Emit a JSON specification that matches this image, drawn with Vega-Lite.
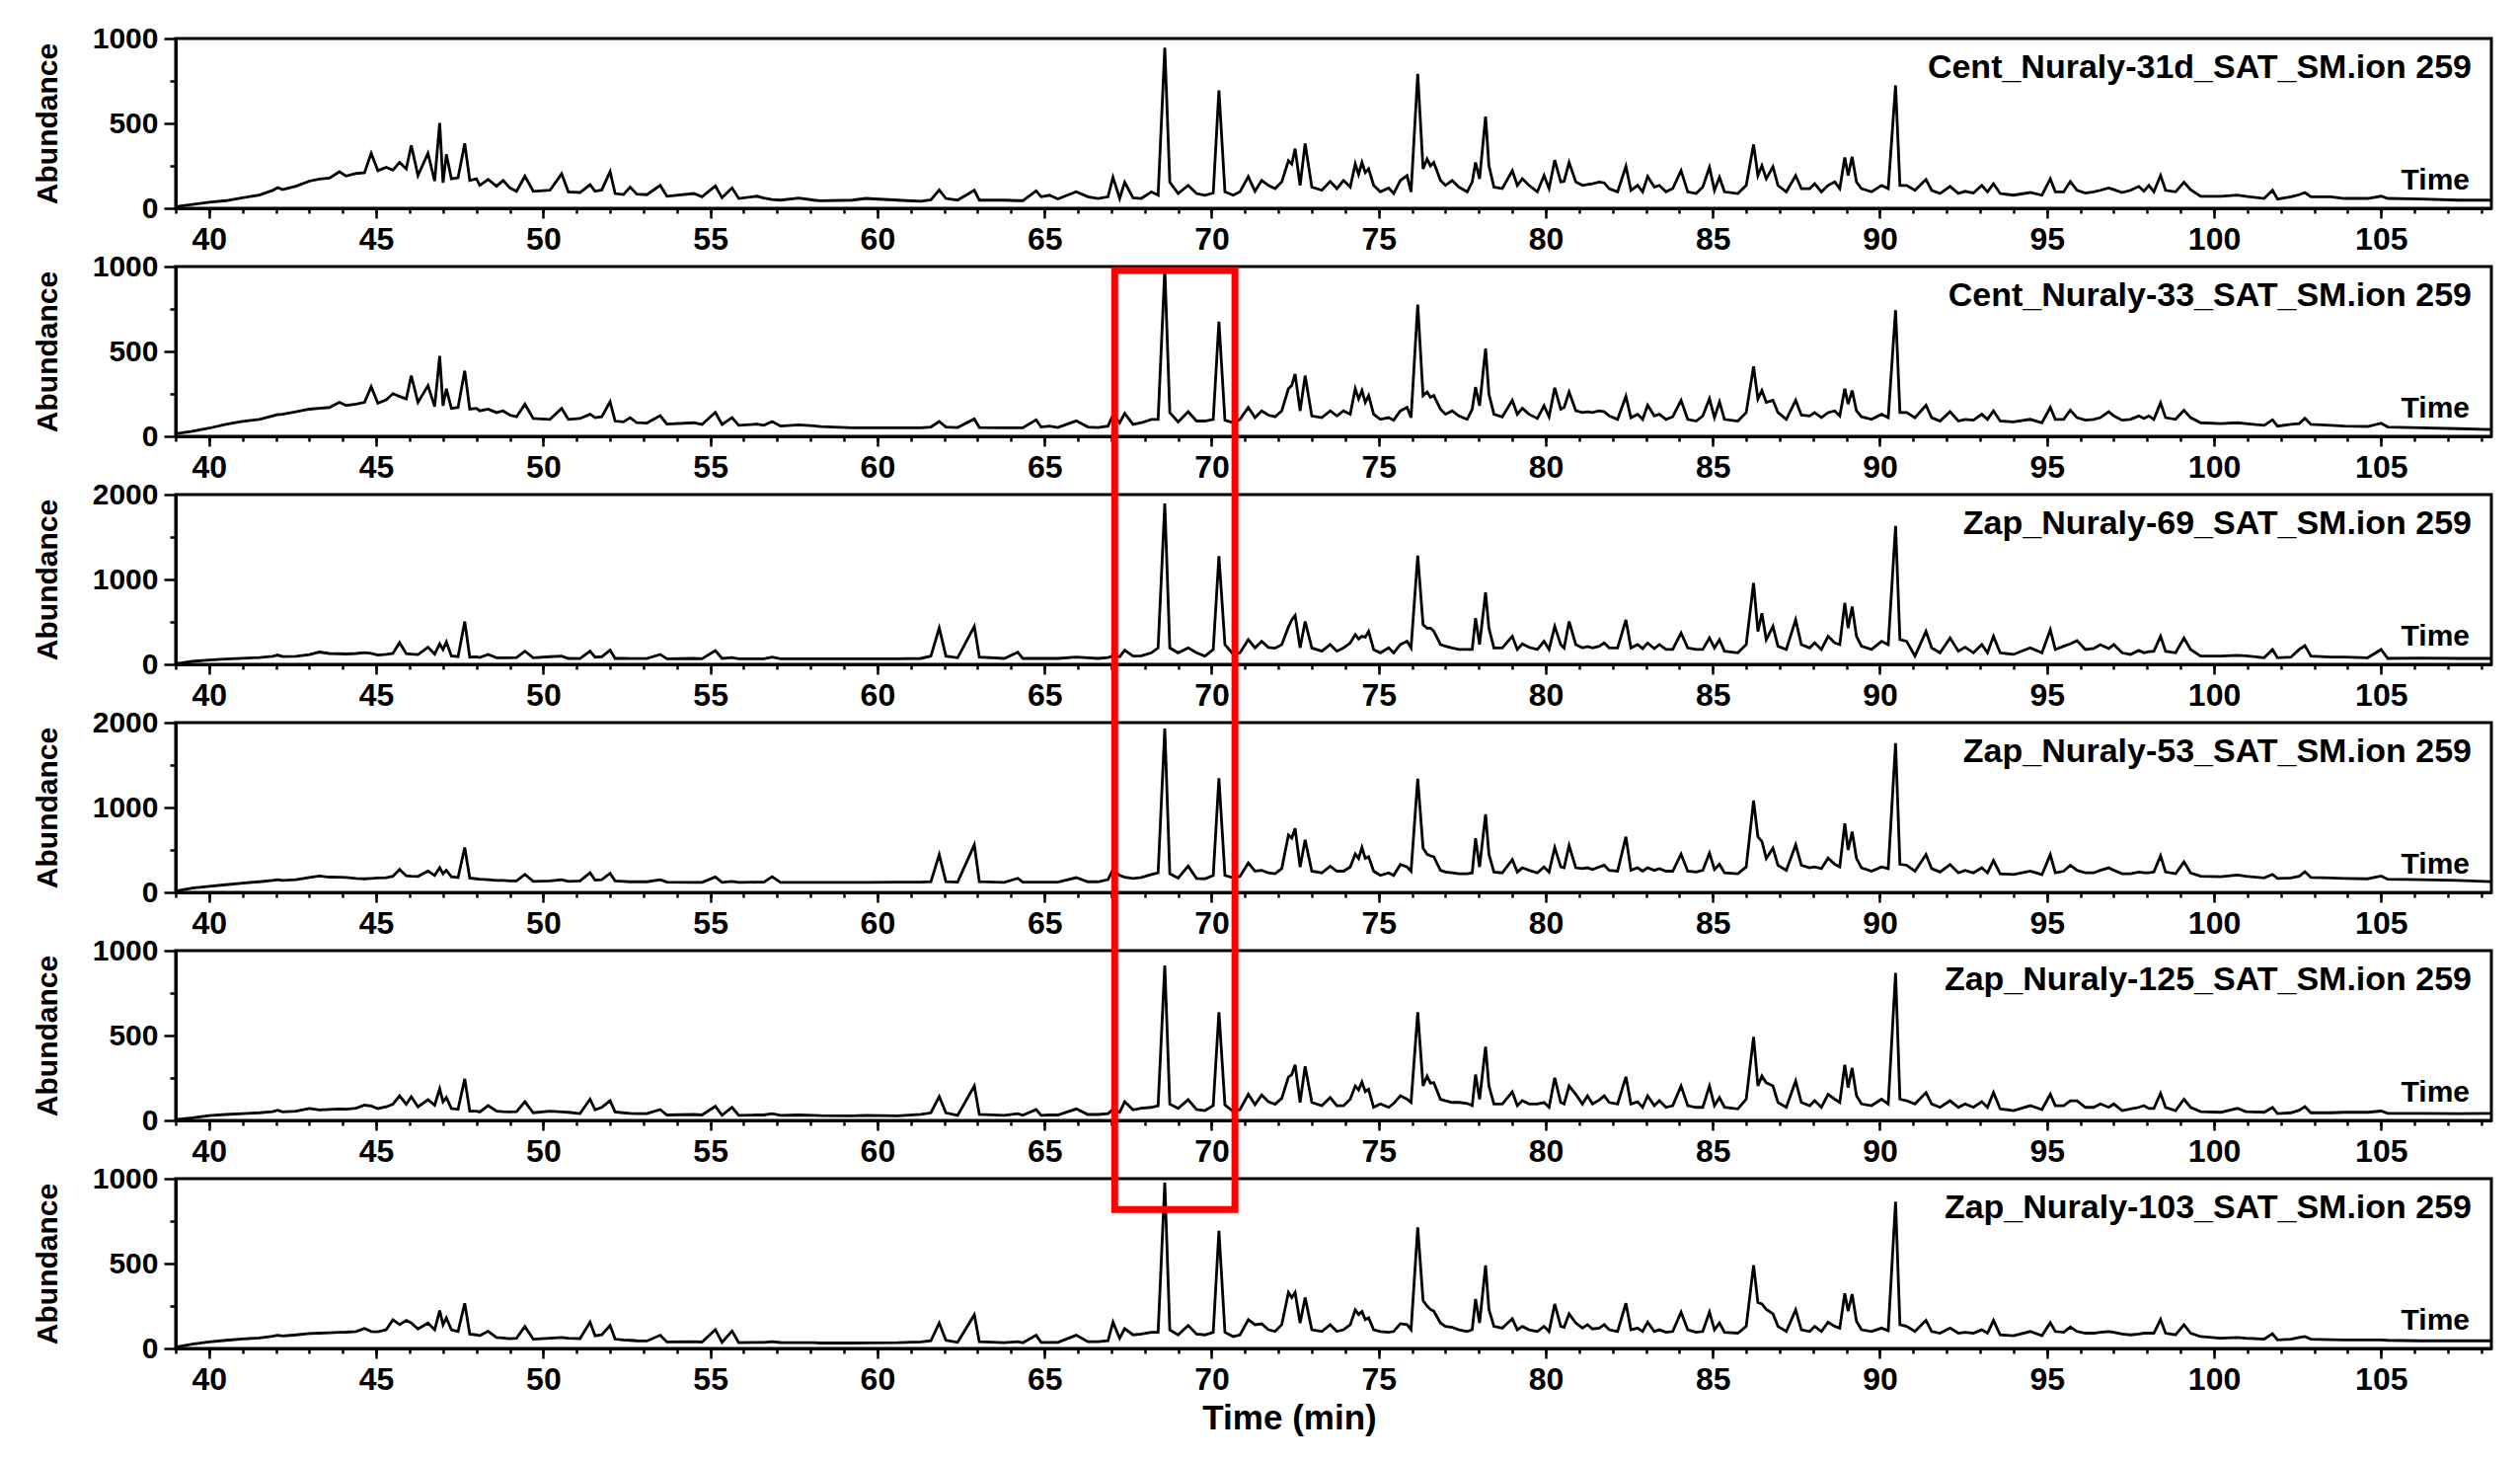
{
  "$schema": "https://vega.github.io/schema/vega-lite/v6.json",
  "padding": {"left": 31, "top": 22, "right": 5, "bottom": 5},
  "background": "white",
  "spacing": 59,
  "bounds": "flush",
  "config": {
    "font": "Liberation Sans",
    "view": {"stroke": "black", "strokeWidth": 3},
    "axis": {
      "grid": false,
      "domainColor": "black", "domainWidth": 3,
      "tickColor": "black", "tickWidth": 2.5,
      "labelColor": "black", "labelFont": "Liberation Sans", "labelFontWeight": "bold", "labelFontSize": 30,
      "labelFlush": false, "labelOverlap": false,
      "titleColor": "black", "titleFont": "Liberation Sans", "titleFontWeight": "bold", "titleFontSize": 30
    },
    "axisX": {"labelFontSize": 32},
    "axisY": {"format": "d"}
  },
  "datasets": {
    "gc": [
      {"t":39.0,"p1":10,"p2":15,"p3":8,"p4":15,"p5":5,"p6":8},
      {"t":39.5,"p1":22,"p2":30,"p3":35,"p4":50,"p5":15,"p6":25},
      {"t":40.0,"p1":35,"p2":48,"p3":50,"p4":70,"p5":28,"p6":38},
      {"t":40.5,"p1":45,"p2":70,"p3":62,"p4":90,"p5":35,"p6":48},
      {"t":41.0,"p1":62,"p2":88,"p3":72,"p4":110,"p5":40,"p6":56},
      {"t":41.5,"p1":78,"p2":100,"p3":80,"p4":125,"p5":45,"p6":62},
      {"t":41.9,"p1":105,"p2":120,"p3":95,"p4":140,"p5":52,"p6":72},
      {"t":42.05,"p1":122,"p2":128,"p3":110,"p4":150,"p5":60,"p6":78},
      {"t":42.2,"p1":110,"p2":130,"p3":92,"p4":140,"p5":50,"p6":74},
      {"t":42.6,"p1":130,"p2":145,"p3":95,"p4":150,"p5":55,"p6":80},
      {"t":43.0,"p1":160,"p2":160,"p3":115,"p4":175,"p5":70,"p6":88},
      {"t":43.3,"p1":172,"p2":165,"p3":145,"p4":193,"p5":62,"p6":90},
      {"t":43.6,"p1":178,"p2":170,"p3":128,"p4":180,"p5":65,"p6":92},
      {"t":43.9,"p1":215,"p2":200,"p3":125,"p4":178,"p5":68,"p6":95},
      {"t":44.1,"p1":190,"p2":182,"p3":122,"p4":175,"p5":66,"p6":96},
      {"t":44.4,"p1":205,"p2":190,"p3":128,"p4":165,"p5":72,"p6":100},
      {"t":44.65,"p1":210,"p2":200,"p3":138,"p4":160,"p5":90,"p6":118},
      {"t":44.85,"p1":324,"p2":293,"p3":130,"p4":165,"p5":85,"p6":100},
      {"t":45.05,"p1":222,"p2":195,"p3":110,"p4":170,"p5":70,"p6":98},
      {"t":45.3,"p1":241,"p2":215,"p3":118,"p4":172,"p5":80,"p6":110},
      {"t":45.5,"p1":225,"p2":251,"p3":128,"p4":190,"p5":95,"p6":169},
      {"t":45.7,"p1":270,"p2":235,"p3":256,"p4":270,"p5":145,"p6":140},
      {"t":45.9,"p1":232,"p2":220,"p3":125,"p4":195,"p5":95,"p6":165},
      {"t":46.05,"p1":371,"p2":357,"p3":120,"p4":190,"p5":139,"p6":150},
      {"t":46.25,"p1":193,"p2":200,"p3":115,"p4":188,"p5":80,"p6":115},
      {"t":46.55,"p1":324,"p2":299,"p3":202,"p4":251,"p5":122,"p6":150},
      {"t":46.75,"p1":160,"p2":175,"p3":120,"p4":200,"p5":90,"p6":110},
      {"t":46.9,"p1":502,"p2":473,"p3":241,"p4":290,"p5":187,"p6":223},
      {"t":47.0,"p1":150,"p2":180,"p3":175,"p4":220,"p5":110,"p6":140},
      {"t":47.1,"p1":318,"p2":280,"p3":264,"p4":260,"p5":135,"p6":180},
      {"t":47.25,"p1":174,"p2":165,"p3":100,"p4":185,"p5":70,"p6":110},
      {"t":47.45,"p1":180,"p2":170,"p3":90,"p4":175,"p5":65,"p6":100},
      {"t":47.65,"p1":382,"p2":386,"p3":505,"p4":529,"p5":245,"p6":266},
      {"t":47.8,"p1":164,"p2":160,"p3":85,"p4":170,"p5":55,"p6":85},
      {"t":48.0,"p1":174,"p2":165,"p3":88,"p4":160,"p5":55,"p6":80},
      {"t":48.1,"p1":135,"p2":150,"p3":80,"p4":155,"p5":50,"p6":75},
      {"t":48.35,"p1":170,"p2":160,"p3":117,"p4":150,"p5":87,"p6":101},
      {"t":48.6,"p1":130,"p2":140,"p3":78,"p4":140,"p5":55,"p6":65},
      {"t":48.8,"p1":164,"p2":150,"p3":76,"p4":140,"p5":52,"p6":62},
      {"t":49.0,"p1":120,"p2":125,"p3":78,"p4":135,"p5":50,"p6":58},
      {"t":49.2,"p1":100,"p2":115,"p3":80,"p4":135,"p5":52,"p6":60},
      {"t":49.45,"p1":189,"p2":189,"p3":155,"p4":212,"p5":110,"p6":130},
      {"t":49.7,"p1":100,"p2":105,"p3":78,"p4":130,"p5":45,"p6":55},
      {"t":50.2,"p1":106,"p2":100,"p3":90,"p4":135,"p5":55,"p6":60},
      {"t":50.55,"p1":203,"p2":164,"p3":97,"p4":150,"p5":50,"p6":65},
      {"t":50.75,"p1":97,"p2":100,"p3":70,"p4":130,"p5":48,"p6":60},
      {"t":51.1,"p1":93,"p2":105,"p3":68,"p4":135,"p5":40,"p6":58},
      {"t":51.4,"p1":139,"p2":130,"p3":155,"p4":232,"p5":125,"p6":155},
      {"t":51.55,"p1":100,"p2":110,"p3":85,"p4":145,"p5":62,"p6":75},
      {"t":51.75,"p1":108,"p2":115,"p3":90,"p4":150,"p5":77,"p6":80},
      {"t":52.0,"p1":216,"p2":203,"p3":167,"p4":224,"p5":116,"p6":136},
      {"t":52.15,"p1":87,"p2":90,"p3":70,"p4":135,"p5":50,"p6":55},
      {"t":52.4,"p1":81,"p2":85,"p3":70,"p4":130,"p5":45,"p6":50},
      {"t":52.6,"p1":125,"p2":110,"p3":68,"p4":125,"p5":42,"p6":48},
      {"t":52.8,"p1":83,"p2":80,"p3":68,"p4":125,"p5":40,"p6":45},
      {"t":53.1,"p1":80,"p2":78,"p3":68,"p4":125,"p5":40,"p6":44},
      {"t":53.5,"p1":135,"p2":122,"p3":117,"p4":150,"p5":64,"p6":78},
      {"t":53.7,"p1":71,"p2":72,"p3":66,"p4":120,"p5":32,"p6":38},
      {"t":54.5,"p1":87,"p2":80,"p3":70,"p4":118,"p5":35,"p6":40},
      {"t":54.75,"p1":68,"p2":70,"p3":66,"p4":118,"p5":32,"p6":38},
      {"t":55.15,"p1":131,"p2":141,"p3":163,"p4":181,"p5":83,"p6":111},
      {"t":55.35,"p1":62,"p2":70,"p3":70,"p4":118,"p5":30,"p6":36},
      {"t":55.65,"p1":120,"p2":110,"p3":80,"p4":130,"p5":77,"p6":103},
      {"t":55.85,"p1":58,"p2":65,"p3":66,"p4":118,"p5":30,"p6":34},
      {"t":56.4,"p1":71,"p2":72,"p3":66,"p4":120,"p5":32,"p6":36},
      {"t":56.6,"p1":60,"p2":65,"p3":66,"p4":120,"p5":32,"p6":36},
      {"t":56.85,"p1":52,"p2":87,"p3":85,"p4":185,"p5":40,"p6":40},
      {"t":57.1,"p1":48,"p2":60,"p3":66,"p4":118,"p5":30,"p6":35},
      {"t":57.65,"p1":60,"p2":68,"p3":66,"p4":118,"p5":32,"p6":34},
      {"t":58.1,"p1":48,"p2":62,"p3":66,"p4":118,"p5":30,"p6":34},
      {"t":58.3,"p1":44,"p2":58,"p3":66,"p4":118,"p5":28,"p6":32},
      {"t":59.25,"p1":48,"p2":50,"p3":66,"p4":118,"p5":27,"p6":32},
      {"t":59.65,"p1":58,"p2":50,"p3":66,"p4":118,"p5":30,"p6":33},
      {"t":60.6,"p1":48,"p2":50,"p3":66,"p4":120,"p5":27,"p6":34},
      {"t":61.3,"p1":42,"p2":50,"p3":70,"p4":120,"p5":35,"p6":38},
      {"t":61.6,"p1":50,"p2":55,"p3":97,"p4":125,"p5":45,"p6":45},
      {"t":61.85,"p1":108,"p2":87,"p3":427,"p4":444,"p5":141,"p6":150},
      {"t":62.05,"p1":58,"p2":55,"p3":97,"p4":125,"p5":45,"p6":48},
      {"t":62.4,"p1":48,"p2":52,"p3":78,"p4":120,"p5":30,"p6":36},
      {"t":62.9,"p1":106,"p2":102,"p3":447,"p4":560,"p5":203,"p6":198},
      {"t":63.05,"p1":48,"p2":52,"p3":85,"p4":125,"p5":35,"p6":40},
      {"t":63.8,"p1":48,"p2":50,"p3":70,"p4":118,"p5":30,"p6":34},
      {"t":64.2,"p1":45,"p2":50,"p3":144,"p4":166,"p5":40,"p6":40},
      {"t":64.35,"p1":45,"p2":50,"p3":70,"p4":120,"p5":30,"p6":34},
      {"t":64.75,"p1":102,"p2":97,"p3":70,"p4":120,"p5":64,"p6":78},
      {"t":64.9,"p1":68,"p2":55,"p3":70,"p4":120,"p5":30,"p6":36},
      {"t":65.15,"p1":77,"p2":60,"p3":70,"p4":120,"p5":32,"p6":36},
      {"t":65.4,"p1":55,"p2":52,"p3":70,"p4":120,"p5":32,"p6":36},
      {"t":65.95,"p1":97,"p2":91,"p3":85,"p4":174,"p5":68,"p6":78},
      {"t":66.3,"p1":68,"p2":55,"p3":78,"p4":125,"p5":35,"p6":40},
      {"t":66.6,"p1":58,"p2":52,"p3":70,"p4":125,"p5":35,"p6":40},
      {"t":66.9,"p1":68,"p2":60,"p3":80,"p4":150,"p5":40,"p6":45},
      {"t":67.05,"p1":183,"p2":125,"p3":100,"p4":270,"p5":65,"p6":155},
      {"t":67.25,"p1":58,"p2":80,"p3":90,"p4":200,"p5":48,"p6":60},
      {"t":67.4,"p1":154,"p2":135,"p3":167,"p4":180,"p5":110,"p6":117},
      {"t":67.65,"p1":62,"p2":70,"p3":98,"p4":165,"p5":62,"p6":80},
      {"t":67.9,"p1":58,"p2":80,"p3":100,"p4":175,"p5":72,"p6":85},
      {"t":68.2,"p1":97,"p2":100,"p3":136,"p4":210,"p5":77,"p6":95},
      {"t":68.4,"p1":77,"p2":100,"p3":194,"p4":230,"p5":87,"p6":95},
      {"t":68.6,"p1":946,"p2":985,"p3":1895,"p4":1931,"p5":913,"p6":977},
      {"t":68.75,"p1":154,"p2":140,"p3":194,"p4":220,"p5":96,"p6":110},
      {"t":69.0,"p1":87,"p2":85,"p3":136,"p4":170,"p5":71,"p6":80},
      {"t":69.3,"p1":135,"p2":145,"p3":194,"p4":309,"p5":122,"p6":136},
      {"t":69.55,"p1":87,"p2":90,"p3":136,"p4":165,"p5":64,"p6":85},
      {"t":69.8,"p1":77,"p2":90,"p3":97,"p4":160,"p5":58,"p6":80},
      {"t":70.05,"p1":90,"p2":100,"p3":175,"p4":200,"p5":87,"p6":95},
      {"t":70.22,"p1":695,"p2":676,"p3":1274,"p4":1344,"p5":637,"p6":693},
      {"t":70.4,"p1":97,"p2":95,"p3":233,"p4":200,"p5":91,"p6":95},
      {"t":70.65,"p1":77,"p2":80,"p3":117,"p4":170,"p5":52,"p6":70},
      {"t":70.85,"p1":97,"p2":100,"p3":136,"p4":190,"p5":64,"p6":80},
      {"t":71.1,"p1":187,"p2":170,"p3":291,"p4":347,"p5":154,"p6":169},
      {"t":71.3,"p1":100,"p2":110,"p3":194,"p4":250,"p5":93,"p6":140},
      {"t":71.5,"p1":164,"p2":150,"p3":272,"p4":260,"p5":150,"p6":145},
      {"t":71.7,"p1":135,"p2":125,"p3":200,"p4":230,"p5":110,"p6":110},
      {"t":71.9,"p1":116,"p2":115,"p3":190,"p4":220,"p5":95,"p6":100},
      {"t":72.1,"p1":155,"p2":150,"p3":233,"p4":280,"p5":130,"p6":140},
      {"t":72.3,"p1":280,"p2":280,"p3":440,"p4":676,"p5":255,"p6":330},
      {"t":72.4,"p1":260,"p2":300,"p3":524,"p4":640,"p5":270,"p6":300},
      {"t":72.5,"p1":351,"p2":367,"p3":575,"p4":753,"p5":328,"p6":330},
      {"t":72.65,"p1":135,"p2":150,"p3":194,"p4":300,"p5":106,"p6":150},
      {"t":72.8,"p1":382,"p2":357,"p3":505,"p4":618,"p5":319,"p6":300},
      {"t":73.0,"p1":125,"p2":120,"p3":194,"p4":250,"p5":106,"p6":110},
      {"t":73.3,"p1":106,"p2":110,"p3":155,"p4":230,"p5":87,"p6":100},
      {"t":73.55,"p1":158,"p2":150,"p3":233,"p4":309,"p5":135,"p6":140},
      {"t":73.75,"p1":116,"p2":120,"p3":155,"p4":250,"p5":87,"p6":100},
      {"t":73.95,"p1":164,"p2":150,"p3":194,"p4":250,"p5":87,"p6":110},
      {"t":74.15,"p1":125,"p2":130,"p3":252,"p4":300,"p5":125,"p6":140},
      {"t":74.3,"p1":261,"p2":280,"p3":350,"p4":452,"p5":203,"p6":227},
      {"t":74.4,"p1":200,"p2":220,"p3":300,"p4":400,"p5":180,"p6":200},
      {"t":74.5,"p1":270,"p2":270,"p3":330,"p4":529,"p5":226,"p6":217},
      {"t":74.6,"p1":210,"p2":200,"p3":320,"p4":400,"p5":170,"p6":170},
      {"t":74.7,"p1":232,"p2":240,"p3":388,"p4":420,"p5":183,"p6":180},
      {"t":74.85,"p1":135,"p2":130,"p3":175,"p4":250,"p5":77,"p6":110},
      {"t":75.05,"p1":97,"p2":100,"p3":136,"p4":200,"p5":97,"p6":100},
      {"t":75.3,"p1":120,"p2":110,"p3":194,"p4":230,"p5":77,"p6":95},
      {"t":75.45,"p1":87,"p2":95,"p3":136,"p4":200,"p5":100,"p6":100},
      {"t":75.65,"p1":164,"p2":150,"p3":233,"p4":328,"p5":145,"p6":146},
      {"t":75.85,"p1":193,"p2":170,"p3":272,"p4":300,"p5":125,"p6":140},
      {"t":75.97,"p1":97,"p2":110,"p3":194,"p4":250,"p5":106,"p6":110},
      {"t":76.17,"p1":792,"p2":776,"p3":1282,"p4":1340,"p5":637,"p6":713},
      {"t":76.33,"p1":232,"p2":240,"p3":466,"p4":521,"p5":203,"p6":282},
      {"t":76.45,"p1":290,"p2":261,"p3":427,"p4":450,"p5":261,"p6":250},
      {"t":76.55,"p1":250,"p2":230,"p3":427,"p4":430,"p5":220,"p6":230},
      {"t":76.65,"p1":270,"p2":240,"p3":390,"p4":420,"p5":222,"p6":220},
      {"t":76.85,"p1":164,"p2":160,"p3":233,"p4":260,"p5":125,"p6":150},
      {"t":77.0,"p1":135,"p2":130,"p3":213,"p4":240,"p5":116,"p6":130},
      {"t":77.2,"p1":164,"p2":150,"p3":194,"p4":230,"p5":106,"p6":125},
      {"t":77.4,"p1":125,"p2":120,"p3":175,"p4":220,"p5":106,"p6":110},
      {"t":77.65,"p1":97,"p2":100,"p3":175,"p4":220,"p5":100,"p6":100},
      {"t":77.8,"p1":155,"p2":160,"p3":175,"p4":230,"p5":87,"p6":110},
      {"t":77.9,"p1":270,"p2":290,"p3":544,"p4":637,"p5":270,"p6":291},
      {"t":78.02,"p1":174,"p2":180,"p3":233,"p4":300,"p5":125,"p6":150},
      {"t":78.2,"p1":540,"p2":517,"p3":847,"p4":919,"p5":434,"p6":489},
      {"t":78.3,"p1":251,"p2":250,"p3":427,"p4":450,"p5":203,"p6":230},
      {"t":78.45,"p1":125,"p2":130,"p3":194,"p4":240,"p5":97,"p6":130},
      {"t":78.7,"p1":116,"p2":115,"p3":194,"p4":230,"p5":97,"p6":120},
      {"t":79.0,"p1":222,"p2":212,"p3":330,"p4":386,"p5":168,"p6":175},
      {"t":79.15,"p1":135,"p2":130,"p3":175,"p4":240,"p5":87,"p6":110},
      {"t":79.3,"p1":174,"p2":165,"p3":241,"p4":290,"p5":116,"p6":130},
      {"t":79.5,"p1":135,"p2":130,"p3":200,"p4":260,"p5":97,"p6":110},
      {"t":79.75,"p1":97,"p2":105,"p3":175,"p4":230,"p5":97,"p6":100},
      {"t":79.95,"p1":193,"p2":180,"p3":272,"p4":300,"p5":106,"p6":130},
      {"t":80.1,"p1":116,"p2":115,"p3":175,"p4":240,"p5":77,"p6":100},
      {"t":80.27,"p1":284,"p2":286,"p3":447,"p4":529,"p5":251,"p6":262},
      {"t":80.45,"p1":155,"p2":160,"p3":233,"p4":300,"p5":106,"p6":130},
      {"t":80.55,"p1":160,"p2":170,"p3":194,"p4":290,"p5":97,"p6":125},
      {"t":80.7,"p1":270,"p2":261,"p3":505,"p4":552,"p5":203,"p6":204},
      {"t":80.9,"p1":155,"p2":150,"p3":233,"p4":290,"p5":154,"p6":150},
      {"t":81.1,"p1":135,"p2":140,"p3":194,"p4":280,"p5":97,"p6":120},
      {"t":81.25,"p1":140,"p2":145,"p3":210,"p4":290,"p5":145,"p6":140},
      {"t":81.4,"p1":145,"p2":140,"p3":194,"p4":270,"p5":97,"p6":115},
      {"t":81.6,"p1":155,"p2":150,"p3":213,"p4":300,"p5":120,"p6":120},
      {"t":81.75,"p1":150,"p2":145,"p3":252,"p4":320,"p5":145,"p6":140},
      {"t":81.9,"p1":116,"p2":120,"p3":194,"p4":260,"p5":106,"p6":110},
      {"t":82.15,"p1":97,"p2":100,"p3":194,"p4":250,"p5":97,"p6":100},
      {"t":82.4,"p1":247,"p2":236,"p3":524,"p4":656,"p5":257,"p6":266},
      {"t":82.55,"p1":106,"p2":110,"p3":194,"p4":260,"p5":97,"p6":110},
      {"t":82.75,"p1":135,"p2":130,"p3":233,"p4":290,"p5":110,"p6":120},
      {"t":82.9,"p1":97,"p2":100,"p3":186,"p4":250,"p5":77,"p6":100},
      {"t":83.05,"p1":187,"p2":183,"p3":252,"p4":290,"p5":145,"p6":155},
      {"t":83.25,"p1":125,"p2":120,"p3":186,"p4":260,"p5":87,"p6":100},
      {"t":83.4,"p1":135,"p2":130,"p3":233,"p4":280,"p5":116,"p6":110},
      {"t":83.6,"p1":97,"p2":100,"p3":175,"p4":250,"p5":77,"p6":95},
      {"t":83.8,"p1":116,"p2":115,"p3":175,"p4":250,"p5":87,"p6":100},
      {"t":84.05,"p1":222,"p2":212,"p3":369,"p4":452,"p5":203,"p6":214},
      {"t":84.25,"p1":97,"p2":100,"p3":194,"p4":250,"p5":87,"p6":110},
      {"t":84.5,"p1":87,"p2":90,"p3":175,"p4":240,"p5":77,"p6":95},
      {"t":84.7,"p1":125,"p2":120,"p3":175,"p4":260,"p5":77,"p6":100},
      {"t":84.9,"p1":241,"p2":222,"p3":311,"p4":463,"p5":203,"p6":214},
      {"t":85.05,"p1":106,"p2":110,"p3":194,"p4":270,"p5":87,"p6":110},
      {"t":85.2,"p1":183,"p2":203,"p3":291,"p4":330,"p5":135,"p6":150},
      {"t":85.35,"p1":97,"p2":100,"p3":155,"p4":230,"p5":77,"p6":95},
      {"t":85.75,"p1":87,"p2":90,"p3":136,"p4":220,"p5":68,"p6":90},
      {"t":86.0,"p1":135,"p2":140,"p3":233,"p4":300,"p5":125,"p6":130},
      {"t":86.22,"p1":376,"p2":411,"p3":959,"p4":1081,"p5":492,"p6":491},
      {"t":86.35,"p1":193,"p2":220,"p3":388,"p4":656,"p5":203,"p6":270},
      {"t":86.47,"p1":251,"p2":270,"p3":602,"p4":600,"p5":261,"p6":262},
      {"t":86.6,"p1":174,"p2":200,"p3":291,"p4":400,"p5":222,"p6":230},
      {"t":86.8,"p1":245,"p2":212,"p3":447,"p4":521,"p5":203,"p6":204},
      {"t":86.95,"p1":135,"p2":140,"p3":214,"p4":320,"p5":106,"p6":130},
      {"t":87.2,"p1":97,"p2":100,"p3":175,"p4":260,"p5":77,"p6":100},
      {"t":87.48,"p1":193,"p2":212,"p3":524,"p4":560,"p5":232,"p6":227},
      {"t":87.65,"p1":116,"p2":125,"p3":233,"p4":320,"p5":106,"p6":110},
      {"t":87.9,"p1":116,"p2":120,"p3":194,"p4":290,"p5":87,"p6":100},
      {"t":88.05,"p1":145,"p2":140,"p3":252,"p4":300,"p5":116,"p6":130},
      {"t":88.25,"p1":97,"p2":110,"p3":175,"p4":280,"p5":77,"p6":100},
      {"t":88.45,"p1":135,"p2":140,"p3":330,"p4":405,"p5":154,"p6":155},
      {"t":88.65,"p1":155,"p2":150,"p3":252,"p4":330,"p5":125,"p6":130},
      {"t":88.8,"p1":116,"p2":120,"p3":233,"p4":300,"p5":106,"p6":120},
      {"t":88.95,"p1":299,"p2":280,"p3":726,"p4":811,"p5":328,"p6":324},
      {"t":89.05,"p1":193,"p2":190,"p3":427,"p4":500,"p5":193,"p6":220},
      {"t":89.17,"p1":303,"p2":270,"p3":680,"p4":714,"p5":309,"p6":320},
      {"t":89.3,"p1":155,"p2":150,"p3":330,"p4":400,"p5":145,"p6":160},
      {"t":89.45,"p1":116,"p2":115,"p3":214,"p4":290,"p5":97,"p6":110},
      {"t":89.75,"p1":97,"p2":100,"p3":175,"p4":250,"p5":87,"p6":100},
      {"t":90.05,"p1":135,"p2":130,"p3":272,"p4":300,"p5":125,"p6":120},
      {"t":90.25,"p1":116,"p2":110,"p3":233,"p4":280,"p5":97,"p6":105},
      {"t":90.47,"p1":724,"p2":743,"p3":1631,"p4":1757,"p5":869,"p6":864},
      {"t":90.6,"p1":135,"p2":140,"p3":291,"p4":330,"p5":125,"p6":140},
      {"t":90.8,"p1":135,"p2":140,"p3":272,"p4":320,"p5":116,"p6":130},
      {"t":91.05,"p1":106,"p2":110,"p3":97,"p4":250,"p5":97,"p6":100},
      {"t":91.38,"p1":170,"p2":183,"p3":388,"p4":444,"p5":164,"p6":165},
      {"t":91.55,"p1":106,"p2":110,"p3":194,"p4":280,"p5":97,"p6":100},
      {"t":91.8,"p1":87,"p2":90,"p3":136,"p4":240,"p5":77,"p6":90},
      {"t":92.1,"p1":129,"p2":145,"p3":311,"p4":328,"p5":116,"p6":120},
      {"t":92.35,"p1":87,"p2":90,"p3":155,"p4":230,"p5":77,"p6":90},
      {"t":92.55,"p1":100,"p2":100,"p3":202,"p4":260,"p5":97,"p6":95},
      {"t":92.8,"p1":90,"p2":95,"p3":136,"p4":230,"p5":77,"p6":90},
      {"t":93.05,"p1":135,"p2":130,"p3":233,"p4":290,"p5":110,"p6":110},
      {"t":93.22,"p1":97,"p2":100,"p3":136,"p4":230,"p5":77,"p6":90},
      {"t":93.4,"p1":145,"p2":150,"p3":330,"p4":375,"p5":164,"p6":165},
      {"t":93.6,"p1":87,"p2":90,"p3":136,"p4":220,"p5":68,"p6":80},
      {"t":94.0,"p1":77,"p2":85,"p3":117,"p4":210,"p5":58,"p6":75},
      {"t":94.5,"p1":93,"p2":100,"p3":194,"p4":251,"p5":87,"p6":100},
      {"t":94.85,"p1":77,"p2":80,"p3":136,"p4":210,"p5":64,"p6":75},
      {"t":95.1,"p1":174,"p2":170,"p3":408,"p4":444,"p5":154,"p6":151},
      {"t":95.25,"p1":97,"p2":100,"p3":175,"p4":230,"p5":87,"p6":100},
      {"t":95.5,"p1":97,"p2":100,"p3":213,"p4":250,"p5":87,"p6":95},
      {"t":95.7,"p1":158,"p2":154,"p3":241,"p4":320,"p5":116,"p6":126},
      {"t":95.9,"p1":106,"p2":110,"p3":280,"p4":260,"p5":116,"p6":100},
      {"t":96.15,"p1":90,"p2":95,"p3":175,"p4":230,"p5":77,"p6":90},
      {"t":96.4,"p1":97,"p2":100,"p3":186,"p4":230,"p5":77,"p6":90},
      {"t":96.6,"p1":106,"p2":110,"p3":233,"p4":260,"p5":97,"p6":95},
      {"t":96.85,"p1":120,"p2":145,"p3":186,"p4":290,"p5":77,"p6":100},
      {"t":97.0,"p1":110,"p2":120,"p3":233,"p4":260,"p5":97,"p6":95},
      {"t":97.25,"p1":93,"p2":95,"p3":136,"p4":220,"p5":58,"p6":85},
      {"t":97.5,"p1":106,"p2":100,"p3":117,"p4":220,"p5":68,"p6":80},
      {"t":97.75,"p1":129,"p2":120,"p3":164,"p4":240,"p5":77,"p6":85},
      {"t":97.9,"p1":100,"p2":105,"p3":136,"p4":230,"p5":87,"p6":90},
      {"t":98.05,"p1":135,"p2":120,"p3":150,"p4":230,"p5":70,"p6":90},
      {"t":98.2,"p1":97,"p2":100,"p3":155,"p4":240,"p5":70,"p6":90},
      {"t":98.4,"p1":193,"p2":197,"p3":330,"p4":432,"p5":160,"p6":171},
      {"t":98.55,"p1":106,"p2":110,"p3":155,"p4":240,"p5":77,"p6":90},
      {"t":98.85,"p1":97,"p2":100,"p3":136,"p4":220,"p5":58,"p6":80},
      {"t":99.1,"p1":154,"p2":154,"p3":311,"p4":359,"p5":125,"p6":140},
      {"t":99.3,"p1":110,"p2":110,"p3":175,"p4":230,"p5":77,"p6":90},
      {"t":99.6,"p1":70,"p2":80,"p3":97,"p4":190,"p5":52,"p6":70},
      {"t":100.2,"p1":70,"p2":75,"p3":97,"p4":185,"p5":48,"p6":60},
      {"t":100.7,"p1":78,"p2":80,"p3":105,"p4":205,"p5":71,"p6":65},
      {"t":100.95,"p1":70,"p2":75,"p3":100,"p4":190,"p5":52,"p6":60},
      {"t":101.5,"p1":58,"p2":65,"p3":78,"p4":170,"p5":48,"p6":55},
      {"t":101.75,"p1":106,"p2":97,"p3":175,"p4":212,"p5":77,"p6":87},
      {"t":101.9,"p1":54,"p2":60,"p3":78,"p4":165,"p5":40,"p6":50},
      {"t":102.3,"p1":68,"p2":70,"p3":85,"p4":170,"p5":45,"p6":55},
      {"t":102.55,"p1":80,"p2":75,"p3":175,"p4":190,"p5":60,"p6":65},
      {"t":102.72,"p1":93,"p2":106,"p3":221,"p4":243,"p5":81,"p6":70},
      {"t":102.9,"p1":68,"p2":70,"p3":97,"p4":175,"p5":45,"p6":55},
      {"t":103.5,"p1":68,"p2":65,"p3":85,"p4":170,"p5":45,"p6":52},
      {"t":103.9,"p1":58,"p2":60,"p3":85,"p4":165,"p5":48,"p6":50},
      {"t":104.6,"p1":58,"p2":58,"p3":78,"p4":160,"p5":48,"p6":50},
      {"t":105.0,"p1":71,"p2":77,"p3":175,"p4":193,"p5":55,"p6":50},
      {"t":105.2,"p1":58,"p2":55,"p3":70,"p4":155,"p5":42,"p6":48},
      {"t":106.2,"p1":54,"p2":50,"p3":75,"p4":150,"p5":41,"p6":45},
      {"t":107.3,"p1":48,"p2":45,"p3":70,"p4":140,"p5":40,"p6":45},
      {"t":108.3,"p1":48,"p2":40,"p3":70,"p4":127,"p5":41,"p6":45}
    ]
  },
  "vconcat": [
    {
      "width": 2346, "height": 172,
      "resolve": {"axis": {"x": "independent", "y": "independent"}},
      "layer": [
        {
          "data": {"name": "gc"},
          "mark": {"type": "line", "color": "black", "strokeWidth": 2.8},
          "encoding": {
            "x": {"field": "t", "type": "quantitative", "scale": {"domain": [39, 108.3], "nice": false, "zero": false},
                  "axis": {"orient": "bottom", "values": [40,45,50,55,60,65,70,75,80,85,90,95,100,105], "tickSize": 10, "labelPadding": 6, "title": null}},
            "y": {"field": "p1", "type": "quantitative", "scale": {"domain": [0, 1000], "nice": false},
                  "axis": {"orient": "left", "values": [0,500,1000], "tickSize": 12, "labelPadding": 6, "title": "Abundance", "titlePadding": 30}}
          }
        },
        {
          "data": {"name": "gc"},
          "mark": {"type": "line", "opacity": 0},
          "encoding": {
            "x": {"field": "t", "type": "quantitative", "axis": {"orient": "bottom", "values": [39,40,41,42,43,44,45,46,47,48,49,50,51,52,53,54,55,56,57,58,59,60,61,62,63,64,65,66,67,68,69,70,71,72,73,74,75,76,77,78,79,80,81,82,83,84,85,86,87,88,89,90,91,92,93,94,95,96,97,98,99,100,101,102,103,104,105,106,107,108], "tickSize": 5, "labels": false, "domain": false, "title": null}},
            "y": {"field": "p1", "type": "quantitative", "axis": {"orient": "left", "values": [250,750], "tickSize": 6, "labels": false, "domain": false, "title": null}}
          }
        },
        {
          "data": {"values": [{"label": "Cent_Nuraly-31d_SAT_SM.ion 259"}]},
          "mark": {"type": "text", "align": "right", "baseline": "middle", "dx": -20, "dy": 30, "fontSize": 34, "fontWeight": "bold", "font": "Liberation Sans", "color": "black"},
          "encoding": {"x": {"datum": 108.3, "type": "quantitative", "axis": null}, "y": {"datum": 1000, "type": "quantitative", "axis": null}, "text": {"field": "label"}}
        },
        {
          "data": {"values": [{"label": "Time"}]},
          "mark": {"type": "text", "align": "right", "baseline": "middle", "dx": -22, "dy": -28, "fontSize": 30, "fontWeight": "bold", "font": "Liberation Sans", "color": "black"},
          "encoding": {"x": {"datum": 108.3, "type": "quantitative", "axis": null}, "y": {"datum": 0, "type": "quantitative", "axis": null}, "text": {"field": "label"}}
        }
      ]
    },
    {
      "width": 2346, "height": 172,
      "resolve": {"axis": {"x": "independent", "y": "independent"}},
      "layer": [
        {
          "data": {"name": "gc"},
          "mark": {"type": "line", "color": "black", "strokeWidth": 2.8},
          "encoding": {
            "x": {"field": "t", "type": "quantitative", "scale": {"domain": [39, 108.3], "nice": false, "zero": false},
                  "axis": {"orient": "bottom", "values": [40,45,50,55,60,65,70,75,80,85,90,95,100,105], "tickSize": 10, "labelPadding": 6, "title": null}},
            "y": {"field": "p2", "type": "quantitative", "scale": {"domain": [0, 1000], "nice": false},
                  "axis": {"orient": "left", "values": [0,500,1000], "tickSize": 12, "labelPadding": 6, "title": "Abundance", "titlePadding": 30}}
          }
        },
        {
          "data": {"name": "gc"},
          "mark": {"type": "line", "opacity": 0},
          "encoding": {
            "x": {"field": "t", "type": "quantitative", "axis": {"orient": "bottom", "values": [39,40,41,42,43,44,45,46,47,48,49,50,51,52,53,54,55,56,57,58,59,60,61,62,63,64,65,66,67,68,69,70,71,72,73,74,75,76,77,78,79,80,81,82,83,84,85,86,87,88,89,90,91,92,93,94,95,96,97,98,99,100,101,102,103,104,105,106,107,108], "tickSize": 5, "labels": false, "domain": false, "title": null}},
            "y": {"field": "p2", "type": "quantitative", "axis": {"orient": "left", "values": [250,750], "tickSize": 6, "labels": false, "domain": false, "title": null}}
          }
        },
        {
          "data": {"values": [{"label": "Cent_Nuraly-33_SAT_SM.ion 259"}]},
          "mark": {"type": "text", "align": "right", "baseline": "middle", "dx": -20, "dy": 30, "fontSize": 34, "fontWeight": "bold", "font": "Liberation Sans", "color": "black"},
          "encoding": {"x": {"datum": 108.3, "type": "quantitative", "axis": null}, "y": {"datum": 1000, "type": "quantitative", "axis": null}, "text": {"field": "label"}}
        },
        {
          "data": {"values": [{"label": "Time"}]},
          "mark": {"type": "text", "align": "right", "baseline": "middle", "dx": -22, "dy": -28, "fontSize": 30, "fontWeight": "bold", "font": "Liberation Sans", "color": "black"},
          "encoding": {"x": {"datum": 108.3, "type": "quantitative", "axis": null}, "y": {"datum": 0, "type": "quantitative", "axis": null}, "text": {"field": "label"}}
        }
      ]
    },
    {
      "width": 2346, "height": 172,
      "resolve": {"axis": {"x": "independent", "y": "independent"}},
      "layer": [
        {
          "data": {"name": "gc"},
          "mark": {"type": "line", "color": "black", "strokeWidth": 2.8},
          "encoding": {
            "x": {"field": "t", "type": "quantitative", "scale": {"domain": [39, 108.3], "nice": false, "zero": false},
                  "axis": {"orient": "bottom", "values": [40,45,50,55,60,65,70,75,80,85,90,95,100,105], "tickSize": 10, "labelPadding": 6, "title": null}},
            "y": {"field": "p3", "type": "quantitative", "scale": {"domain": [0, 2000], "nice": false},
                  "axis": {"orient": "left", "values": [0,1000,2000], "tickSize": 12, "labelPadding": 6, "title": "Abundance", "titlePadding": 30}}
          }
        },
        {
          "data": {"name": "gc"},
          "mark": {"type": "line", "opacity": 0},
          "encoding": {
            "x": {"field": "t", "type": "quantitative", "axis": {"orient": "bottom", "values": [39,40,41,42,43,44,45,46,47,48,49,50,51,52,53,54,55,56,57,58,59,60,61,62,63,64,65,66,67,68,69,70,71,72,73,74,75,76,77,78,79,80,81,82,83,84,85,86,87,88,89,90,91,92,93,94,95,96,97,98,99,100,101,102,103,104,105,106,107,108], "tickSize": 5, "labels": false, "domain": false, "title": null}},
            "y": {"field": "p3", "type": "quantitative", "axis": {"orient": "left", "values": [500,1500], "tickSize": 6, "labels": false, "domain": false, "title": null}}
          }
        },
        {
          "data": {"values": [{"label": "Zap_Nuraly-69_SAT_SM.ion 259"}]},
          "mark": {"type": "text", "align": "right", "baseline": "middle", "dx": -20, "dy": 30, "fontSize": 34, "fontWeight": "bold", "font": "Liberation Sans", "color": "black"},
          "encoding": {"x": {"datum": 108.3, "type": "quantitative", "axis": null}, "y": {"datum": 2000, "type": "quantitative", "axis": null}, "text": {"field": "label"}}
        },
        {
          "data": {"values": [{"label": "Time"}]},
          "mark": {"type": "text", "align": "right", "baseline": "middle", "dx": -22, "dy": -28, "fontSize": 30, "fontWeight": "bold", "font": "Liberation Sans", "color": "black"},
          "encoding": {"x": {"datum": 108.3, "type": "quantitative", "axis": null}, "y": {"datum": 0, "type": "quantitative", "axis": null}, "text": {"field": "label"}}
        }
      ]
    },
    {
      "width": 2346, "height": 172,
      "resolve": {"axis": {"x": "independent", "y": "independent"}},
      "layer": [
        {
          "data": {"name": "gc"},
          "mark": {"type": "line", "color": "black", "strokeWidth": 2.8},
          "encoding": {
            "x": {"field": "t", "type": "quantitative", "scale": {"domain": [39, 108.3], "nice": false, "zero": false},
                  "axis": {"orient": "bottom", "values": [40,45,50,55,60,65,70,75,80,85,90,95,100,105], "tickSize": 10, "labelPadding": 6, "title": null}},
            "y": {"field": "p4", "type": "quantitative", "scale": {"domain": [0, 2000], "nice": false},
                  "axis": {"orient": "left", "values": [0,1000,2000], "tickSize": 12, "labelPadding": 6, "title": "Abundance", "titlePadding": 30}}
          }
        },
        {
          "data": {"name": "gc"},
          "mark": {"type": "line", "opacity": 0},
          "encoding": {
            "x": {"field": "t", "type": "quantitative", "axis": {"orient": "bottom", "values": [39,40,41,42,43,44,45,46,47,48,49,50,51,52,53,54,55,56,57,58,59,60,61,62,63,64,65,66,67,68,69,70,71,72,73,74,75,76,77,78,79,80,81,82,83,84,85,86,87,88,89,90,91,92,93,94,95,96,97,98,99,100,101,102,103,104,105,106,107,108], "tickSize": 5, "labels": false, "domain": false, "title": null}},
            "y": {"field": "p4", "type": "quantitative", "axis": {"orient": "left", "values": [500,1500], "tickSize": 6, "labels": false, "domain": false, "title": null}}
          }
        },
        {
          "data": {"values": [{"label": "Zap_Nuraly-53_SAT_SM.ion 259"}]},
          "mark": {"type": "text", "align": "right", "baseline": "middle", "dx": -20, "dy": 30, "fontSize": 34, "fontWeight": "bold", "font": "Liberation Sans", "color": "black"},
          "encoding": {"x": {"datum": 108.3, "type": "quantitative", "axis": null}, "y": {"datum": 2000, "type": "quantitative", "axis": null}, "text": {"field": "label"}}
        },
        {
          "data": {"values": [{"label": "Time"}]},
          "mark": {"type": "text", "align": "right", "baseline": "middle", "dx": -22, "dy": -28, "fontSize": 30, "fontWeight": "bold", "font": "Liberation Sans", "color": "black"},
          "encoding": {"x": {"datum": 108.3, "type": "quantitative", "axis": null}, "y": {"datum": 0, "type": "quantitative", "axis": null}, "text": {"field": "label"}}
        }
      ]
    },
    {
      "width": 2346, "height": 172,
      "resolve": {"axis": {"x": "independent", "y": "independent"}},
      "layer": [
        {
          "data": {"name": "gc"},
          "mark": {"type": "line", "color": "black", "strokeWidth": 2.8},
          "encoding": {
            "x": {"field": "t", "type": "quantitative", "scale": {"domain": [39, 108.3], "nice": false, "zero": false},
                  "axis": {"orient": "bottom", "values": [40,45,50,55,60,65,70,75,80,85,90,95,100,105], "tickSize": 10, "labelPadding": 6, "title": null}},
            "y": {"field": "p5", "type": "quantitative", "scale": {"domain": [0, 1000], "nice": false},
                  "axis": {"orient": "left", "values": [0,500,1000], "tickSize": 12, "labelPadding": 6, "title": "Abundance", "titlePadding": 30}}
          }
        },
        {
          "data": {"name": "gc"},
          "mark": {"type": "line", "opacity": 0},
          "encoding": {
            "x": {"field": "t", "type": "quantitative", "axis": {"orient": "bottom", "values": [39,40,41,42,43,44,45,46,47,48,49,50,51,52,53,54,55,56,57,58,59,60,61,62,63,64,65,66,67,68,69,70,71,72,73,74,75,76,77,78,79,80,81,82,83,84,85,86,87,88,89,90,91,92,93,94,95,96,97,98,99,100,101,102,103,104,105,106,107,108], "tickSize": 5, "labels": false, "domain": false, "title": null}},
            "y": {"field": "p5", "type": "quantitative", "axis": {"orient": "left", "values": [250,750], "tickSize": 6, "labels": false, "domain": false, "title": null}}
          }
        },
        {
          "data": {"values": [{"label": "Zap_Nuraly-125_SAT_SM.ion 259"}]},
          "mark": {"type": "text", "align": "right", "baseline": "middle", "dx": -20, "dy": 30, "fontSize": 34, "fontWeight": "bold", "font": "Liberation Sans", "color": "black"},
          "encoding": {"x": {"datum": 108.3, "type": "quantitative", "axis": null}, "y": {"datum": 1000, "type": "quantitative", "axis": null}, "text": {"field": "label"}}
        },
        {
          "data": {"values": [{"label": "Time"}]},
          "mark": {"type": "text", "align": "right", "baseline": "middle", "dx": -22, "dy": -28, "fontSize": 30, "fontWeight": "bold", "font": "Liberation Sans", "color": "black"},
          "encoding": {"x": {"datum": 108.3, "type": "quantitative", "axis": null}, "y": {"datum": 0, "type": "quantitative", "axis": null}, "text": {"field": "label"}}
        }
      ]
    },
    {
      "width": 2346, "height": 172,
      "resolve": {"axis": {"x": "independent", "y": "independent"}},
      "layer": [
        {
          "data": {"name": "gc"},
          "mark": {"type": "line", "color": "black", "strokeWidth": 2.8},
          "encoding": {
            "x": {"field": "t", "type": "quantitative", "scale": {"domain": [39, 108.3], "nice": false, "zero": false},
                  "axis": {"orient": "bottom", "values": [40,45,50,55,60,65,70,75,80,85,90,95,100,105], "tickSize": 10, "labelPadding": 6, "title": "Time (min)", "titleFontSize": 35, "titlePadding": 6, "titleX": 1128}},
            "y": {"field": "p6", "type": "quantitative", "scale": {"domain": [0, 1000], "nice": false},
                  "axis": {"orient": "left", "values": [0,500,1000], "tickSize": 12, "labelPadding": 6, "title": "Abundance", "titlePadding": 30}}
          }
        },
        {
          "data": {"name": "gc"},
          "mark": {"type": "line", "opacity": 0},
          "encoding": {
            "x": {"field": "t", "type": "quantitative", "axis": {"orient": "bottom", "values": [39,40,41,42,43,44,45,46,47,48,49,50,51,52,53,54,55,56,57,58,59,60,61,62,63,64,65,66,67,68,69,70,71,72,73,74,75,76,77,78,79,80,81,82,83,84,85,86,87,88,89,90,91,92,93,94,95,96,97,98,99,100,101,102,103,104,105,106,107,108], "tickSize": 5, "labels": false, "domain": false, "title": null}},
            "y": {"field": "p6", "type": "quantitative", "axis": {"orient": "left", "values": [250,750], "tickSize": 6, "labels": false, "domain": false, "title": null}}
          }
        },
        {
          "data": {"values": [{"label": "Zap_Nuraly-103_SAT_SM.ion 259"}]},
          "mark": {"type": "text", "align": "right", "baseline": "middle", "dx": -20, "dy": 30, "fontSize": 34, "fontWeight": "bold", "font": "Liberation Sans", "color": "black"},
          "encoding": {"x": {"datum": 108.3, "type": "quantitative", "axis": null}, "y": {"datum": 1000, "type": "quantitative", "axis": null}, "text": {"field": "label"}}
        },
        {
          "data": {"values": [{"label": "Time"}]},
          "mark": {"type": "text", "align": "right", "baseline": "middle", "dx": -22, "dy": -28, "fontSize": 30, "fontWeight": "bold", "font": "Liberation Sans", "color": "black"},
          "encoding": {"x": {"datum": 108.3, "type": "quantitative", "axis": null}, "y": {"datum": 0, "type": "quantitative", "axis": null}, "text": {"field": "label"}}
        },
        {
          "data": {"values": [{"note": "highlight"}]},
          "mark": {"type": "rect", "fillOpacity": 0, "stroke": "#ff0000", "strokeWidth": 7, "clip": false},
          "encoding": {
            "x": {"datum": 67.1, "type": "quantitative", "axis": null},
            "x2": {"datum": 70.7},
            "y": {"datum": 819, "type": "quantitative", "axis": null},
            "y2": {"datum": 6349}
          }
        }
      ]
    }
  ]
}
